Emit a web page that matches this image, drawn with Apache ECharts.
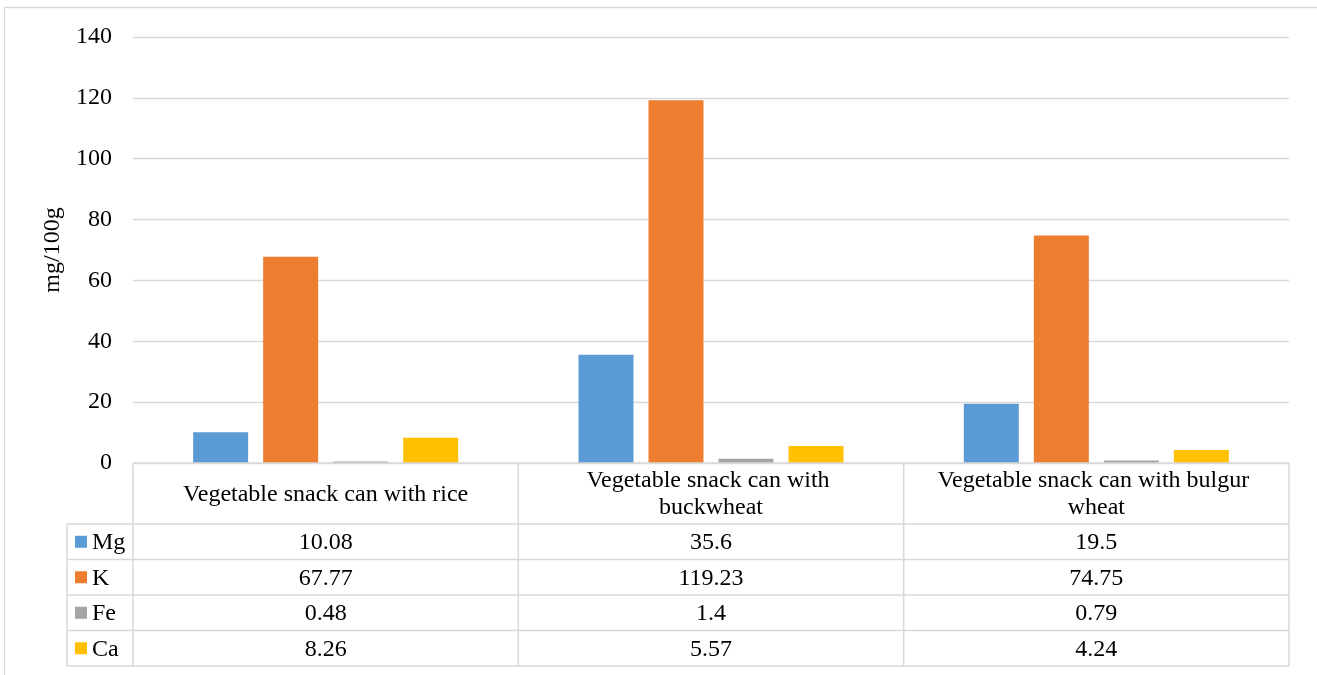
<!DOCTYPE html>
<html>
<head>
<meta charset="utf-8">
<script src="https://cdn.jsdelivr.net/npm/echarts@6/dist/echarts.min.js"></script>
<style>
html,body{margin:0;padding:0;background:#fff;}
#chart{width:1317px;height:675px;}
</style>
</head>
<body>
<div id="chart"></div>
<script>
// ---- data ----
const categories = ['Vegetable snack can with rice', 'Vegetable snack can with buckwheat', 'Vegetable snack can with bulgur wheat'];
const seriesNames = ['Mg', 'K', 'Fe', 'Ca'];
const mgValues = [10.08, 35.6, 19.5];
const kValues = [67.77, 119.23, 74.75];
const feValues = [0.48, 1.4, 0.79];
const caValues = [8.26, 5.57, 4.24];
const colors = ['#5B9BD5', '#ED7D31', '#A5A5A5', '#FFC000'];
const yAxisName = 'mg/100g';

const allValues = [mgValues, kValues, feValues, caValues];
const FONT = "'Liberation Serif', 'Times New Roman', serif";
const FS = 24;
const LINE = '#D9D9D9';

const chart = echarts.init(document.getElementById('chart'), null, {renderer: 'canvas'});

const option = {
  animation: false,
  backgroundColor: '#fff',
  color: colors,
  grid: {left: 133, right: 28, top: 37, bottom: 212, containLabel: false},
  xAxis: {
    type: 'category',
    data: categories,
    axisLine: {show: false},
    axisTick: {show: false},
    axisLabel: {show: false},
    splitLine: {show: false}
  },
  yAxis: {
    type: 'value',
    min: 0, max: 140, interval: 20,
    name: yAxisName,
    nameLocation: 'middle',
    nameGap: 64,
    nameTextStyle: {fontFamily: FONT, fontSize: FS, color: '#000'},
    axisLine: {show: false},
    axisTick: {show: false},
    axisLabel: {fontFamily: FONT, fontSize: FS, color: '#000', margin: 21},
    splitLine: {lineStyle: {color: LINE, width: 1.3}}
  },
  series: seriesNames.map((name, i) => ({
    name: name,
    type: 'bar',
    data: allValues[i],
    barWidth: 55,
    barGap: '27.3%',
    itemStyle: {color: colors[i]}
  }))
};
chart.setOption(option);

// ---- data table below the plot, positioned from the axes ----
function buildTable() {
  const yZero = chart.convertToPixel({yAxisIndex: 0}, 0);
  const c0 = chart.convertToPixel({xAxisIndex: 0}, 0);
  const c1 = chart.convertToPixel({xAxisIndex: 0}, 1);
  const band = c1 - c0;
  const xLeft = c0 - band / 2;
  const xRight = xLeft + band * categories.length;
  const headerH = 61;
  const rowH = 35.5;
  const legendLeft = 67;
  const headerBottom = yZero + headerH;
  const tableBottom = headerBottom + rowH * seriesNames.length;

  const els = [];
  // outer chart border
  els.push({type: 'rect', shape: {x: 4.5, y: 7.5, width: 1400, height: 700},
    style: {fill: null, stroke: LINE, lineWidth: 1.3}, silent: true, z: 0});

  const line = (x1, y1, x2, y2) => els.push({type: 'line', shape: {x1, y1, x2, y2},
    style: {stroke: LINE, lineWidth: 1.5}, silent: true, z: 10});

  // header top
  line(xLeft, yZero, xRight, yZero);
  // horizontal row lines
  for (let r = 0; r <= seriesNames.length; r++) {
    const y = headerBottom + r * rowH;
    line(legendLeft, y, xRight, y);
  }
  // vertical lines
  for (let c = 0; c <= categories.length; c++) {
    const x = xLeft + c * band;
    line(x, yZero, x, tableBottom);
  }
  line(legendLeft, headerBottom, legendLeft, tableBottom);

  // header texts
  categories.forEach((cat, c) => {
    els.push({type: 'text', x: xLeft + (c + 0.5) * band, y: yZero + headerH / 2 + 1, z: 11,
      style: {text: cat, width: 340, overflow: 'break', lineHeight: 27,
        align: 'center', verticalAlign: 'middle', font: FS + 'px ' + FONT, fill: '#000'}});
  });
  // rows
  seriesNames.forEach((name, r) => {
    const yc = headerBottom + (r + 0.5) * rowH;
    els.push({type: 'rect', shape: {x: 75, y: yc - 6, width: 12, height: 12},
      style: {fill: colors[r]}, z: 11});
    els.push({type: 'text', x: 92, y: yc + 1, z: 11,
      style: {text: name, align: 'left', verticalAlign: 'middle', font: FS + 'px ' + FONT, fill: '#000'}});
    allValues[r].forEach((v, c) => {
      els.push({type: 'text', x: xLeft + (c + 0.5) * band, y: yc + 1, z: 11,
        style: {text: String(v), align: 'center', verticalAlign: 'middle', font: FS + 'px ' + FONT, fill: '#000'}});
    });
  });
  chart.setOption({graphic: {elements: els}});
}
buildTable();
</script>
</body>
</html>
